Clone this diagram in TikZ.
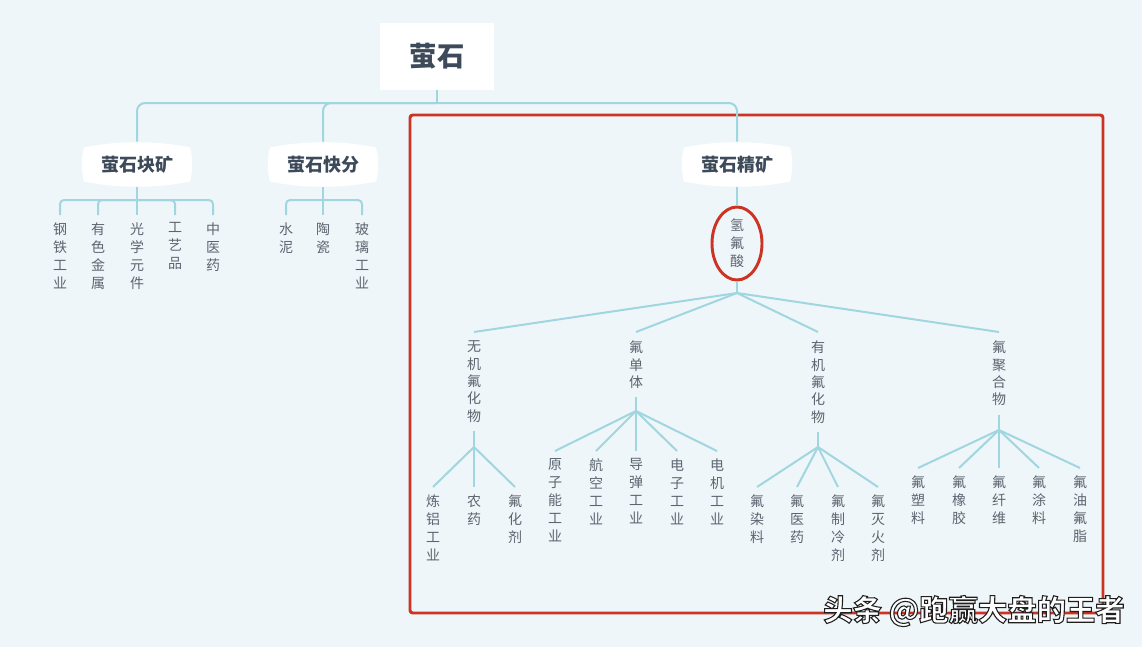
\documentclass[tikz,border=0pt]{standalone}
\usepackage{fontspec}
\newfontfamily\cjk{Noto Sans CJK SC}
\usetikzlibrary{shapes.geometric}
\definecolor{bgc}{HTML}{EFF6F9}
\definecolor{connc}{HTML}{A0D6E0}
\definecolor{txtg}{HTML}{5C6570}
\definecolor{hdr}{HTML}{3D4A5A}
\definecolor{redc}{HTML}{CC3322}
\newcommand\mybarrel[2]{\fill[white,shift={(#1,#2)}] (-53,-17) .. controls (-20,-24) and (20,-24) .. (53,-17) .. controls (56,-6) and (56,6) .. (53,17) .. controls (20,24) and (-20,24) .. (-53,17) .. controls (-56,6) and (-56,-6) .. (-53,-17) -- cycle;}
\newcommand\outlinedtext[1]{\special{pdf:code q 2 Tr 0.8 w 0.12 0.12 0.12 RG}#1\special{pdf:code Q}}
\begin{document}
\begin{tikzpicture}[x=0.75pt,y=-0.75pt,
  link/.style={draw=connc,line width=1.5pt},
  leaf/.style={font=\cjk\fontsize{10.5}{13.5}\selectfont,text=txtg,align=center,inner xsep=0pt,inner ysep=5.5pt,anchor=north},
  mid/.style={font=\cjk\fontsize{10.5}{13}\selectfont,text=txtg,align=center,inner xsep=0pt,inner ysep=6.5pt,anchor=north},
  lvl/.style={font=\cjk\bfseries\fontsize{13.5}{15}\selectfont,text=hdr,minimum width=80pt,minimum height=33.75pt,inner sep=0pt},
  rootbox/.style={fill=white,font=\cjk\bfseries\fontsize{20.5}{24}\selectfont,text=hdr,minimum width=85.5pt,minimum height=50pt,inner sep=0pt},
  hfe/.style={ellipse,draw=redc,line width=2.2pt,minimum width=37.5pt,minimum height=54.75pt,inner sep=0pt,font=\cjk\fontsize{10.5}{13.5}\selectfont,text=txtg,align=center},
  wm/.style={font=\cjk\bfseries\fontsize{22}{26}\selectfont,inner sep=0pt}]
\fill[bgc] (0,0) rectangle (1142,647);
\useasboundingbox (0,0) rectangle (1142,647);

% red highlight frame
\draw[redc,line width=2.2pt,rounded corners=2] (410,115) rectangle (1103,613);

% root
\node[rootbox] (root) at (437,56.5) {萤石};

% level 1
\mybarrel{137}{164.5}
\mybarrel{323}{164.5}
\mybarrel{737}{164.5}
\node[lvl] (k1) at (137,164.5) {萤石块矿};
\node[lvl] (k2) at (323,164.5) {萤石快分};
\node[lvl] (k3) at (737,164.5) {萤石精矿};

\coordinate (bus) at (437,103);
\draw[link] (root.south) -- (bus);
\draw[link,rounded corners=6] (bus) -| (k1.north);
\draw[link,rounded corners=6] (bus) -| (k2.north);
\draw[link,rounded corners=6] (bus) -| (k3.north);

% k1 children
\node[leaf] (a1) at (60,215) {钢\\铁\\工\\业};
\node[leaf] (a2) at (98,215) {有\\色\\金\\属};
\node[leaf] (a3) at (137,215) {光\\学\\元\\件};
\node[leaf] (a4) at (175,215) {工\\艺\\品};
\node[leaf] (a5) at (213,215) {中\\医\\药};
\coordinate (b1) at (137,200);
\draw[link] (k1.south) -- (b1);
\foreach \c in {a1,a2,a3,a4,a5} \draw[link,rounded corners=3] (b1) -| (\c.north);

% k2 children
\node[leaf] (q1) at (286,215) {水\\泥};
\node[leaf] (q2) at (323,215) {陶\\瓷};
\node[leaf] (q3) at (362,215) {玻\\璃\\工\\业};
\coordinate (b2) at (323,200);
\draw[link] (k2.south) -- (b2);
\foreach \c in {q1,q2,q3} \draw[link,rounded corners=3] (b2) -| (\c.north);

% k3 -> HF
\node[hfe] (hf) at (737,243.5) {氢\\氟\\酸};
\draw[link] (k3.south) -- (hf.north);
\coordinate (h0) at (737,293);
\draw[link] (hf.south) -- (h0);

% mid level
\node[mid] (m1) at (474,332) {无\\机\\氟\\化\\物};
\node[mid] (m2) at (636,332) {氟\\单\\体};
\node[mid] (m3) at (818,332) {有\\机\\氟\\化\\物};
\node[mid] (m4) at (999,332) {氟\\聚\\合\\物};
\foreach \m in {m1,m2,m3,m4} \draw[link] (h0) -- (\m.north);

% m1 children
\coordinate (h1) at (474,447);
\node[leaf] (c11) at (433,487) {炼\\铝\\工\\业};
\node[leaf] (c12) at (474,487) {农\\药};
\node[leaf] (c13) at (515,487) {氟\\化\\剂};
\draw[link] (m1.south) -- (h1);
\foreach \c in {c11,c12,c13} \draw[link] (h1) -- (\c.north);

% m2 children
\coordinate (h2) at (636,411);
\node[leaf] (c21) at (555,451) {原\\子\\能\\工\\业};
\node[leaf] (c22) at (596,451) {航\\空\\工\\业};
\node[leaf] (c23) at (636,451) {导\\弹\\工\\业};
\node[leaf] (c24) at (677,451) {电\\子\\工\\业};
\node[leaf] (c25) at (717,451) {电\\机\\工\\业};
\draw[link] (m2.south) -- (h2);
\foreach \c in {c21,c22,c23,c24,c25} \draw[link] (h2) -- (\c.north);

% m3 children
\coordinate (h3) at (818,447);
\node[leaf] (c31) at (757,487) {氟\\染\\料};
\node[leaf] (c32) at (797,487) {氟\\医\\药};
\node[leaf] (c33) at (838,487) {氟\\制\\冷\\剂};
\node[leaf] (c34) at (878,487) {氟\\灭\\火\\剂};
\draw[link] (m3.south) -- (h3);
\foreach \c in {c31,c32,c33,c34} \draw[link] (h3) -- (\c.north);

% m4 children
\coordinate (h4) at (999,430);
\node[leaf] (c41) at (918,468) {氟\\塑\\料};
\node[leaf] (c42) at (959,468) {氟\\橡\\胶};
\node[leaf] (c43) at (999,468) {氟\\纤\\维};
\node[leaf] (c44) at (1039,468) {氟\\涂\\料};
\node[leaf] (c45) at (1080,468) {氟\\油\\氟\\脂};
\draw[link] (m4.south) -- (h4);
\foreach \c in {c41,c42,c43,c44,c45} \draw[link] (h4) -- (\c.north);

% watermark
\node[wm,text=white] (wmark) at (974,611) {\outlinedtext{头条 @跑赢大盘的王者}};
\end{tikzpicture}
\end{document}
